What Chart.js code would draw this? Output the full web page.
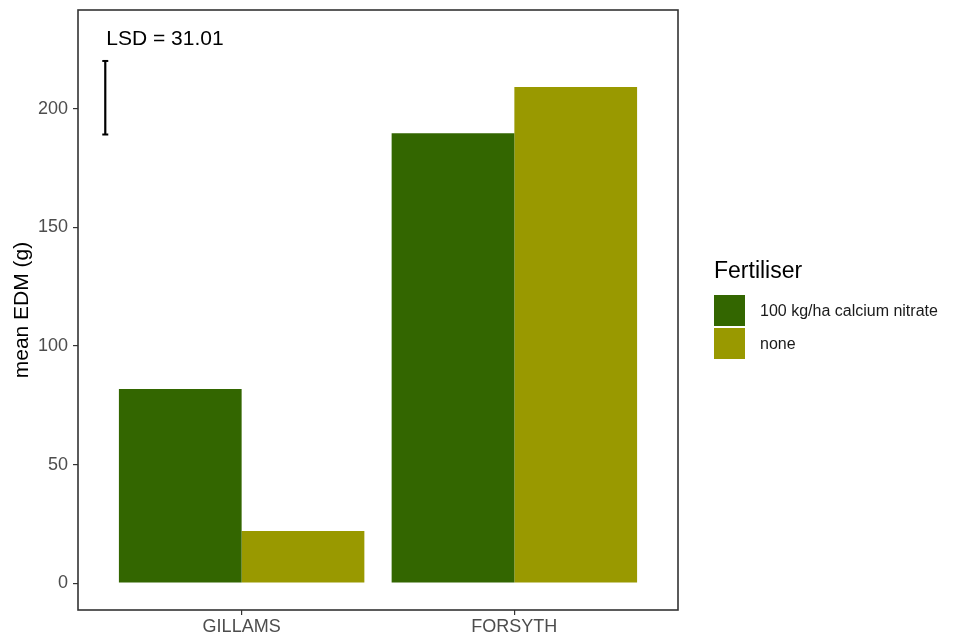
<!DOCTYPE html>
<html>
<head>
<meta charset="utf-8">
<script src="https://cdn.jsdelivr.net/npm/chart.js@4.4.1/dist/chart.umd.min.js"></script>
<style>
    html, body { margin: 0; padding: 0; background: #fff; }
    #wrap { position: relative; width: 968px; height: 639px; font-family: Arial, "Liberation Sans", sans-serif; }
    #legend { position: absolute; left: 714px; top: 256px; }
    #legend .title { font-size: 23px; line-height: 28px; color: #000; margin-bottom: 10px; }
    #legend .item { display: flex; align-items: center; height: 33px; }
    #legend .key { width: 31px; height: 31px; margin-right: 15px; }
    #legend .lbl { font-size: 16px; color: #1a1a1a; }
</style>
</head>
<body>
<div id="wrap">
    <canvas id="edmChart" width="968" height="639"></canvas>
    <div id="legend"></div>
</div>
<script>
// 数据
const sites = ['GILLAMS', 'FORSYTH'];
const fertiliser = ['100 kg/ha calcium nitrate', 'none'];
const edmCalcium = [81.9, 189.7];
const edmNone = [22.0, 209.2];
const barColors = ['#336600', '#999900'];
const yTicks = [0, 50, 100, 150, 200];
// LSD 误差线
const lsdValue = 31.01;
const lsdLow = 189.2;
const lsdHigh = lsdLow + lsdValue;
const lsdX = 0.5;
const lsdTextY = 229.5;

const siteX = sites.map((s, i) => i + 1);
const fontFamily = 'Arial, "Liberation Sans", sans-serif';

// 面板边框 + LSD 文本
const panelPlugin = {
    id: 'panelPlugin',
    afterDraw(chart) {
        const { ctx, chartArea, scales } = chart;
        ctx.save();
        ctx.strokeStyle = '#333333';
        ctx.lineWidth = 1.6;
        ctx.strokeRect(chartArea.left, chartArea.top, chartArea.right - chartArea.left, chartArea.bottom - chartArea.top);
        ctx.fillStyle = '#000';
        ctx.font = '21px ' + fontFamily;
        ctx.textBaseline = 'middle';
        ctx.textAlign = 'left';
        ctx.fillText('LSD = ' + lsdValue.toFixed(2), scales.x.getPixelForValue(lsdX) + 1, scales.y.getPixelForValue(lsdTextY));
        ctx.restore();
    }
};

const ctx = document.getElementById('edmChart').getContext('2d');
const edmChart = new Chart(ctx, {
    data: {
        datasets: [
            {
                type: 'bar',
                label: fertiliser[0],
                data: siteX.map((x, i) => ({ x: x, y: edmCalcium[i] })),
                backgroundColor: barColors[0],
                categoryPercentage: 0.9,
                barPercentage: 1.0
            },
            {
                type: 'bar',
                label: fertiliser[1],
                data: siteX.map((x, i) => ({ x: x, y: edmNone[i] })),
                backgroundColor: barColors[1],
                categoryPercentage: 0.9,
                barPercentage: 1.0
            },
            {
                type: 'line',
                label: 'LSD',
                data: [{ x: lsdX, y: lsdLow }, { x: lsdX, y: lsdHigh }],
                borderColor: '#000',
                borderWidth: 2.2,
                pointStyle: 'line',
                pointRadius: 3,
                pointBorderWidth: 2,
                pointBorderColor: '#000',
                pointHoverRadius: 3
            }
        ]
    },
    options: {
        responsive: false,
        animation: false,
        layout: { padding: { top: 10, right: 290, left: 0, bottom: 0 } },
        scales: {
            x: {
                type: 'linear',
                offset: false,
                min: 0.4,
                max: 2.6,
                afterBuildTicks: s => { s.ticks = siteX.map(v => ({ value: v })); },
                afterFit: s => { s.height = 29; s.paddingLeft = 0; s.paddingRight = 0; },
                grid: { display: true, offset: false, drawOnChartArea: false, drawTicks: true, tickLength: 5, color: '#333333', lineWidth: 1.2 },
                border: { display: false },
                ticks: {
                    callback: v => sites[v - 1],
                    color: '#4d4d4d',
                    font: { size: 18, family: fontFamily },
                    padding: 1,
                    maxRotation: 0
                }
            },
            y: {
                type: 'linear',
                min: -11.3,
                max: 241.7,
                afterBuildTicks: s => { s.ticks = yTicks.map(v => ({ value: v })); },
                afterFit: s => { s.width = 78; s.paddingTop = 0; s.paddingBottom = 0; },
                grid: { display: true, drawOnChartArea: false, drawTicks: true, tickLength: 5, color: '#333333', lineWidth: 1.2 },
                border: { display: false },
                ticks: {
                    color: '#4d4d4d',
                    font: { size: 18, family: fontFamily },
                    padding: 5
                },
                title: {
                    display: true,
                    text: 'mean EDM (g)',
                    color: '#000',
                    font: { size: 21, family: fontFamily },
                    padding: { top: 10, bottom: 0 }
                }
            }
        },
        plugins: {
            legend: { display: false },
            tooltip: { enabled: false }
        }
    },
    plugins: [panelPlugin]
});

// HTML 图例
const legendEl = document.getElementById('legend');
let html = '<div class="title">Fertiliser</div>';
fertiliser.forEach((name, i) => {
    html += '<div class="item"><span class="key" style="background:' + barColors[i] + '"></span><span class="lbl">' + name + '</span></div>';
});
legendEl.innerHTML = html;
</script>
</body>
</html>
